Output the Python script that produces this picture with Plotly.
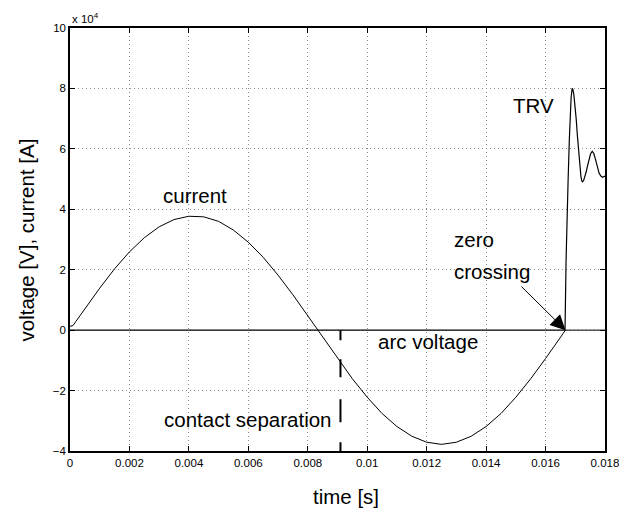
import plotly.graph_objects as go

# ---- data (values in units of 1e4) ----
current_t = [0.0, 0.0001, 0.0002, 0.0005, 0.0010, 0.0015, 0.0020, 0.0025, 0.0030, 0.0035,
             0.0040, 0.0045, 0.0050, 0.0055, 0.0060, 0.0065, 0.0070, 0.0075, 0.0080,
             0.0085, 0.0090, 0.0095, 0.0100, 0.0105, 0.0110, 0.0115, 0.0120, 0.0125,
             0.0130, 0.0135, 0.0140, 0.0145, 0.0150, 0.0155, 0.0160, 0.0165, 0.01667,
             0.0180]
current_v = [0.13, 0.15, 0.29, 0.71, 1.39, 2.03, 2.59, 3.06, 3.42, 3.66,
             3.77, 3.75, 3.60, 3.31, 2.91, 2.41, 1.82, 1.17, 0.47,
             -0.24, -0.94, -1.61, -2.22, -2.76, -3.19, -3.51, -3.71, -3.78,
             -3.71, -3.51, -3.19, -2.76, -2.22, -1.61, -0.94, -0.24, 0.0,
             0.0]

voltage_t = [0.0, 0.016655, 0.016690, 0.016713, 0.016760, 0.016800, 0.016830, 0.016860,
             0.016895, 0.016920, 0.016950, 0.016990, 0.017030, 0.017070, 0.017110,
             0.017150, 0.017190, 0.017220, 0.017245, 0.017280, 0.017320, 0.017370,
             0.017410, 0.017460, 0.017510, 0.017569, 0.017620, 0.017680, 0.017740,
             0.017800, 0.017860, 0.017920, 0.018000]
voltage_v = [0.0, 0.0, 2.3, 3.64, 5.0, 6.3, 7.1, 7.7,
             8.0, 7.96, 7.81, 7.47, 7.0, 6.45, 5.9,
             5.43, 5.08, 4.94, 4.91, 4.95, 5.06, 5.25,
             5.43, 5.65, 5.82, 5.92, 5.85, 5.65, 5.4,
             5.2, 5.1, 5.06, 5.1]

contact_sep_t = 0.0091
zero_cross_t = 0.01667

x_ticks = [0, 0.002, 0.004, 0.006, 0.008, 0.01, 0.012, 0.014, 0.016, 0.018]
x_ticklabels = ["0", "0.002", "0.004", "0.006", "0.008", "0.01", "0.012", "0.014", "0.016", "0.018"]
y_ticks = [-4, -2, 0, 2, 4, 6, 8, 10]
y_ticklabels = ["\u22124", "\u22122", "0", "2", "4", "6", "8", "10"]

FONT = "Liberation Sans, Arial, Helvetica, sans-serif"

fig = go.Figure()
fig.add_trace(go.Scatter(x=current_t, y=current_v, mode="lines",
                         line=dict(color="black", width=1), showlegend=False))
fig.add_trace(go.Scatter(x=voltage_t, y=voltage_v, mode="lines",
                         line=dict(color="black", width=1.2), showlegend=False))

# contact separation dashed line
fig.add_shape(type="line", xref="x", yref="y", x0=contact_sep_t, x1=contact_sep_t,
              y0=0, y1=-4, line=dict(color="black", width=2, dash="10px,19px,18px,22px,23px,20px,20px"))

ann_font = dict(family=FONT, size=20.5, color="black")
fig.add_annotation(x=0.004222, y=4.44, text="current", showarrow=False, font=ann_font,
                   xanchor="center", yanchor="middle")
fig.add_annotation(x=0.015578, y=7.42, text="TRV", showarrow=False, font=ann_font,
                   xanchor="center", yanchor="middle")
fig.add_annotation(x=0.01285, y=2.99, text="zero", showarrow=False, font=ann_font,
                   xanchor="left", yanchor="middle")
fig.add_annotation(x=0.01285, y=1.93, text="crossing", showarrow=False, font=ann_font,
                   xanchor="left", yanchor="middle")
fig.add_annotation(x=0.010295, y=-0.36, text="arc voltage", showarrow=False, font=ann_font,
                   xanchor="left", yanchor="middle")
fig.add_annotation(x=0.003086, y=-2.97, text="contact separation", showarrow=False, font=ann_font,
                   xanchor="left", yanchor="middle")
# arrow to zero crossing
fig.add_annotation(x=zero_cross_t, y=0, ax=0.01514, ay=1.49, axref="x", ayref="y",
                   xref="x", yref="y", text="", showarrow=True, arrowhead=2,
                   arrowsize=3, arrowwidth=1, arrowcolor="black", standoff=0)

# axis titles and exponent
fig.add_annotation(xref="paper", yref="paper", x=0.515, y=-0.1395, text="time [s]",
                   showarrow=False, font=ann_font, xanchor="center", yanchor="bottom")
fig.add_annotation(xref="paper", yref="paper", x=-0.0804, y=0.5, text="voltage [V], current [A]",
                   showarrow=False, font=ann_font, textangle=-90, xanchor="center", yanchor="middle")
fig.add_annotation(xref="paper", yref="paper", x=0.0, y=1.0236, text="x 10<sup>4</sup>",
                   showarrow=False, font=dict(family=FONT, size=11.5, color="black"),
                   xanchor="left", yanchor="middle")

axis_common = dict(showline=True, linecolor="black", linewidth=1.5, mirror="ticks",
                   ticks="inside", ticklen=5, tickwidth=1, tickcolor="black",
                   showgrid=True, gridcolor="#8c8c8c", gridwidth=1, griddash="1px,3px",
                   zeroline=False, tickfont=dict(family=FONT, size=11.5, color="black"))

fig.update_xaxes(range=[0, 0.018], tickvals=x_ticks, ticktext=x_ticklabels, **axis_common)
fig.update_yaxes(range=[-4, 10], tickvals=y_ticks, ticktext=y_ticklabels, **axis_common)

fig.update_layout(width=630, height=512, margin=dict(l=70, r=25, t=28, b=61),
                  paper_bgcolor="white", plot_bgcolor="white", showlegend=False)

fig.write_html("out.html", config={"displayModeBar": False},
               post_script="document.body.style.margin='0';document.body.style.overflow='hidden';")
